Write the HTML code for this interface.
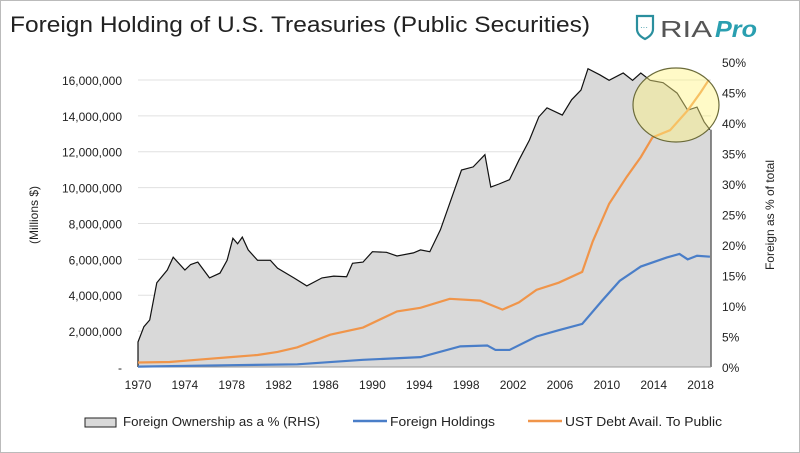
<!DOCTYPE html>
<html><head><meta charset="utf-8"><style>
body{margin:0;background:#fff}
svg{display:block;font-family:"Liberation Sans",sans-serif}
</style></head><body>
<svg id="c" width="800" height="453">
<rect x="0.5" y="0.5" width="799" height="452" fill="#fff" stroke="#bbb"/>
<text x="10" y="32" font-size="22" fill="#222" textLength="580" lengthAdjust="spacingAndGlyphs">Foreign Holding of U.S. Treasuries (Public Securities)</text>
<g>
<path d="M637 16 L653 16 L653 29 Q653 35 645 39 Q637 35 637 29 Z" fill="none" stroke="#2a8f9e" stroke-width="2.2"/>
<text x="640" y="30" font-size="8" fill="#2a8f9e">···</text>
<text x="660" y="37" font-size="23" fill="#555" textLength="52" lengthAdjust="spacingAndGlyphs">RIA</text>
<text x="715" y="37" font-size="23" font-weight="bold" font-style="italic" fill="#2a9fb0" textLength="42" lengthAdjust="spacingAndGlyphs">Pro</text>
</g>
<text transform="translate(38,215) rotate(-90)" text-anchor="middle" font-size="12" fill="#222">(Millions $)</text>
<text transform="translate(774,215) rotate(-90)" text-anchor="middle" font-size="12" fill="#222">Foreign as % of total</text>
<g id="grid"></g><g id="marks"></g><g id="axes"></g>
<g>
<rect x="85" y="418" width="31" height="9" fill="#d9d9d9" stroke="#222"/>
<text x="123" y="426" font-size="12.5" fill="#222" textLength="197" lengthAdjust="spacingAndGlyphs">Foreign Ownership as a % (RHS)</text>
<line x1="353" y1="421" x2="387" y2="421" stroke="#4a7ec8" stroke-width="2.5"/>
<text x="390" y="426" font-size="12.5" fill="#222" textLength="105" lengthAdjust="spacingAndGlyphs">Foreign Holdings</text>
<line x1="528" y1="421" x2="562" y2="421" stroke="#f0954a" stroke-width="2.5"/>
<text x="565" y="426" font-size="12.5" fill="#222" textLength="157" lengthAdjust="spacingAndGlyphs">UST Debt Avail. To Public</text>
</g>
</svg>
<script>
const pctYears=[1970,1970.5,1971,1971.6,1972.5,1973,1974,1974.5,1975.1,1976.1,1977,1977.6,1978.1,1978.5,1978.9,1979.4,1980.2,1981.3,1981.9,1983.3,1984.4,1985.7,1986.7,1987.8,1988.3,1989.2,1990,1991.2,1992.1,1993.5,1994.1,1994.9,1995.8,1996.9,1997.6,1998.6,1999.6,2000.1,2000.8,2001.7,2002.5,2003.4,2004.2,2004.9,2006.2,2007,2007.8,2008.4,2009.4,2010.2,2011.4,2012.2,2012.9,2013.7,2014.8,2016,2016.9,2017.7,2018.3,2018.8];
const pctValues=[4.1,6.6,7.7,13.8,15.9,18,15.9,16.8,17.2,14.6,15.4,17.5,21.1,20.2,21.3,19.2,17.5,17.5,16.2,14.6,13.3,14.6,14.9,14.8,17,17.2,18.9,18.8,18.2,18.7,19.2,18.9,22.5,28.5,32.3,32.8,34.8,29.5,30,30.7,33.9,37.2,41,42.5,41.3,43.8,45.4,48.9,47.9,47,48.2,47,48.2,47,46.6,44.9,42.1,42.6,40.2,38.9];
const debtYears=[1970,1972.7,1975,1977.9,1980.2,1981.9,1983.6,1986.4,1989.2,1992.1,1994.1,1996.6,1999.2,2001.1,2002.5,2004,2005.9,2007.9,2008.8,2010.2,2011.7,2012.9,2013.9,2015.4,2016.9,2018,2018.7];
const debtValues=[0.25,0.28,0.4,0.55,0.67,0.84,1.1,1.8,2.2,3.1,3.3,3.8,3.7,3.2,3.6,4.3,4.7,5.3,7.0,9.1,10.6,11.7,12.8,13.2,14.3,15.3,16.0];
const holdYears=[1970,1977.9,1983.6,1989.2,1994.1,1997.5,1999.8,2000.5,2001.7,2004,2005.9,2007.9,2009.6,2011.1,2012.9,2015.1,2016.2,2016.9,2017.7,2018.8];
const holdValues=[0.02,0.1,0.15,0.4,0.55,1.15,1.2,0.95,0.95,1.7,2.05,2.4,3.7,4.8,5.6,6.1,6.3,6.0,6.2,6.15];
const leftTicks=[0,2,4,6,8,10,12,14,16];
const rightTicks=[0,5,10,15,20,25,30,35,40,45,50];
const xTicks=[1970,1974,1978,1982,1986,1990,1994,1998,2002,2006,2010,2014,2018];

const X0=138,X1=711,Y0=367,Y1=62;
const xs=y=>X0+(y-1970)*11.72;
const yl=v=>Y0-(v/17)*(Y0-Y1);
const yr=p=>Y0-(p/50)*(Y0-Y1);
const NS="http://www.w3.org/2000/svg";
function mk(t,a,parent){const e=document.createElementNS(NS,t);for(const k in a)e.setAttribute(k,a[k]);document.getElementById(parent).appendChild(e);return e;}

leftTicks.forEach(v=>{
  if(v>0){const g=mk('line',{x1:X0,x2:X1,y1:yl(v),y2:yl(v),stroke:'#e0e0e0'},'grid');
  
  }
  const t=mk('text',{x:122,y:yl(v)+5,'text-anchor':'end','font-size':12,fill:'#222'},'axes');
  t.textContent=v===0?'-':(v*1000000).toLocaleString('en-US');
  
  
});
rightTicks.forEach(p=>{
  const t=mk('text',{x:722,y:yr(p)+5,'font-size':12,fill:'#222'},'axes');
  t.textContent=p+'%';
  
  
});
xTicks.forEach(y=>{
  const t=mk('text',{x:xs(y),y:389,'text-anchor':'middle','font-size':12,fill:'#222'},'axes');
  t.textContent=y;
  
  
});

const pctPts=pctYears.map((y,i)=>xs(y).toFixed(1)+','+yr(pctValues[i]).toFixed(1));
const areaEl=mk('path',{d:'M'+xs(1970)+','+Y0+' L'+pctPts.join(' L')+' L'+X1+','+yr(pctValues[pctValues.length-1])+' L'+X1+','+Y0+' Z',fill:'#d9d9d9'},'marks');


const topLine=mk('path',{d:'M'+xs(1970)+','+Y0+' L'+pctPts.join(' L'),fill:'none',stroke:'#111','stroke-width':1.2},'marks');


const rb=mk('line',{x1:X1,x2:X1,y1:yr(pctValues[pctValues.length-1]),y2:Y0,stroke:'#666','stroke-width':1.5},'marks');


const ax=mk('line',{x1:X0,x2:X1,y1:Y0,y2:Y0,stroke:'#999'},'marks');



const bl=mk('polyline',{points:holdYears.map((y,i)=>xs(y)+','+yl(holdValues[i])).join(' '),fill:'none',stroke:'#4a7ec8','stroke-width':2.2},'marks');


const ol=mk('polyline',{points:debtYears.map((y,i)=>xs(y)+','+yl(debtValues[i])).join(' '),fill:'none',stroke:'#f0954a','stroke-width':2.2},'marks');



const hl=mk('ellipse',{cx:676,cy:105,rx:43,ry:37,fill:'rgba(255,245,130,0.45)',stroke:'#6b6b3a','stroke-width':1.2},'marks');


</script>
</body></html>
